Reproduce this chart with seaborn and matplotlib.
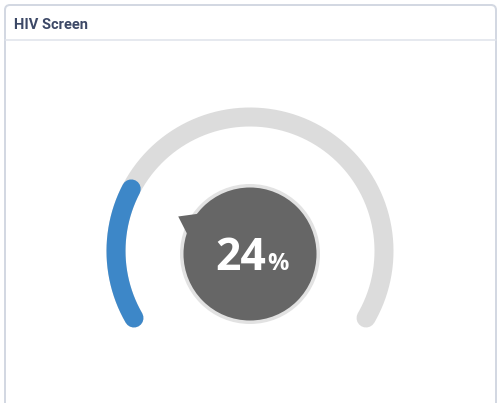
import numpy as np
import matplotlib
matplotlib.use('Agg')
import matplotlib.pyplot as plt
import seaborn as sns
from matplotlib.patches import FancyBboxPatch, Circle, Polygon

# Data
title = "HIV Screen"
value = 24          # percent
gauge_min, gauge_max = 0, 100

sns.set_theme(style="white")
plt.rcParams['font.family'] = ['Open Sans', 'DejaVu Sans']

W, H = 500, 403
fig = plt.figure(figsize=(W / 100, H / 100), dpi=100)
ax = fig.add_axes([0, 0, 1, 1])
ax.set_xlim(0, W)
ax.set_ylim(H, 0)
ax.axis('off')

px = 0.72  # points per pixel at dpi 100

# Panel frame
panel = FancyBboxPatch((5, 5), 491, 420, boxstyle="round,pad=0,rounding_size=5",
                       facecolor='white', edgecolor='#d3d8e2', linewidth=2 * px)
ax.add_patch(panel)
ax.plot([5, 496], [40, 40], color='#dfe3ea', linewidth=1.5 * px)
ax.text(14, 25, title, fontsize=10.5, fontweight='bold', color='#3c4866',
        ha='left', va='center', family=['Roboto', 'DejaVu Sans'])

# Gauge geometry
cx, cy, r = 250, 251, 134
a_start, a_end = 210, -30
frac = (value - gauge_min) / (gauge_max - gauge_min)
a_val = a_start + (a_end - a_start) * frac


def arc(a0, a1, color):
    t = np.radians(np.linspace(a0, a1, 200))
    ax.plot(cx + r * np.cos(t), cy - r * np.sin(t), color=color,
            linewidth=19 * px, solid_capstyle='round')


arc(a_start, a_end, '#dcdcdc')
arc(a_start, a_val, '#3d87c8')

# Center dial with pointer
dy = cy + 3
ax.add_patch(Circle((cx, dy), 70, facecolor='#e2e2e2', edgecolor='none'))
ax.add_patch(Circle((cx, dy), 66.5, facecolor='#666666', edgecolor='none'))
tv = np.radians(a_val)
tip = (cx + 81 * np.cos(tv), dy - 81 * np.sin(tv))
b1 = np.radians(a_val + 16)
b2 = np.radians(a_val - 16)
ax.add_patch(Polygon([tip,
                      (cx + 60 * np.cos(b1), dy - 60 * np.sin(b1)),
                      (cx + 60 * np.cos(b2), dy - 60 * np.sin(b2))],
                     closed=True, facecolor='#666666', edgecolor='none'))

ax.text(266, 270, f"{value}", fontsize=32, fontweight='bold', color='white',
        ha='right', va='baseline')
ax.text(267, 270, "%", fontsize=17, fontweight='bold', color='white',
        ha='left', va='baseline')

fig.savefig('out.png', dpi=100, facecolor='white')
